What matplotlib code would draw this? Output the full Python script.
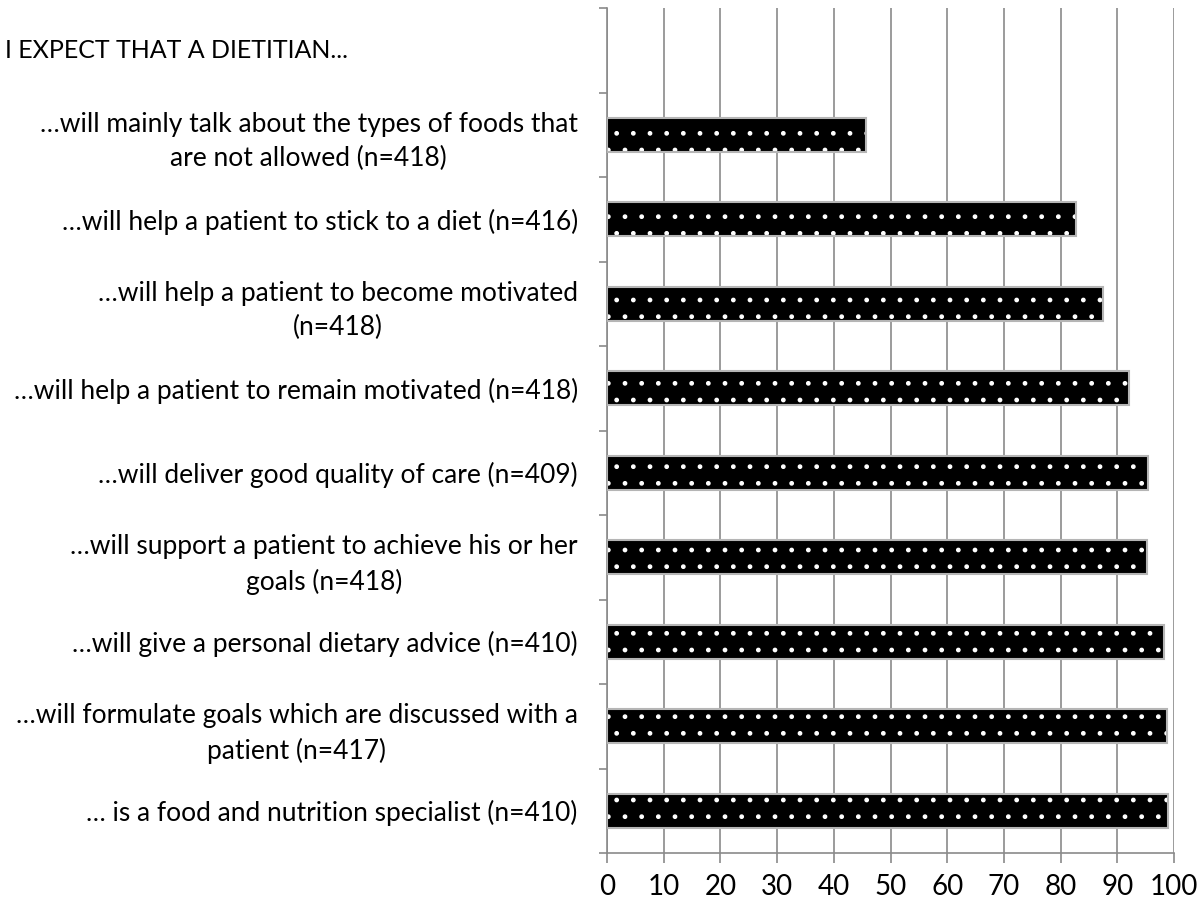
import numpy as np
import matplotlib.pyplot as plt
from matplotlib import transforms

plt.rcParams['font.family'] = ['Lato', 'DejaVu Sans']
plt.rcParams['hatch.linewidth'] = 1.0

header = "I EXPECT THAT A DIETITIAN..."
labels = [
    "… is a food and nutrition specialist (n=410)",
    "…will formulate goals which are discussed with a\npatient (n=417)",
    "…will give a personal dietary advice (n=410)",
    "…will support a patient to achieve his or her\ngoals (n=418)",
    "…will deliver good quality of care (n=409)",
    "…will help a patient to remain motivated (n=418)",
    "…will help a patient to become motivated\n(n=418)",
    "…will help a patient to stick to a diet (n=416)",
    "…will mainly talk about the types of foods that\nare not allowed (n=418)",
]
values = [98.9, 98.7, 98.2, 95.2, 95.4, 92.1, 87.5, 82.7, 45.7]
xticks = list(range(0, 101, 10))

fig = plt.figure(figsize=(12, 9.07), dpi=100)
ax = fig.add_axes([607/1200, 1-853/907, (1174-607)/1200, (853-8)/907])

grid_col = '#8a8a8a'
pos = np.arange(len(labels))

# dotted fill (hatch colour comes from edgecolor), then a grey border on top
ax.barh(pos, values, height=0.4, color='black', edgecolor='white',
        hatch='.', linewidth=0, zorder=3)
ax.barh(pos, values, height=0.4, fill=False, edgecolor='#b5b5b5',
        linewidth=1.5, zorder=4)

ax.set_xlim(0, 100)
ax.set_ylim(-0.5, len(labels) + 0.5)
ax.set_xticks(xticks)
ax.set_xticklabels([str(t) for t in xticks])
ax.set_yticks(pos)
ax.set_yticklabels(labels)
for t in ax.get_yticklabels():
    t.set_multialignment('center')
    t.set_linespacing(1.45)
ax.set_yticks(np.arange(-0.5, len(labels) + 1, 1), minor=True)

ax.tick_params(axis='y', which='major', length=0, pad=21, labelsize=19,
               labelcolor='black')
ax.tick_params(axis='y', which='minor', length=6, width=1.2, color=grid_col,
               direction='out')
ax.tick_params(axis='x', length=7, width=1.2, color=grid_col, pad=8,
               labelsize=20)

ax.grid(axis='x', color=grid_col, linewidth=1.2, zorder=0)
ax.set_axisbelow(True)
for s in ['top', 'right']:
    ax.spines[s].set_visible(False)
for s in ['left', 'bottom']:
    ax.spines[s].set_color(grid_col)
    ax.spines[s].set_linewidth(1.2)

tr = transforms.blended_transform_factory(fig.transFigure, ax.transData)
ax.text(5/1200, len(labels), header, transform=tr, ha='left', va='center',
        fontsize=18)

fig.savefig('out.png', dpi=100)
